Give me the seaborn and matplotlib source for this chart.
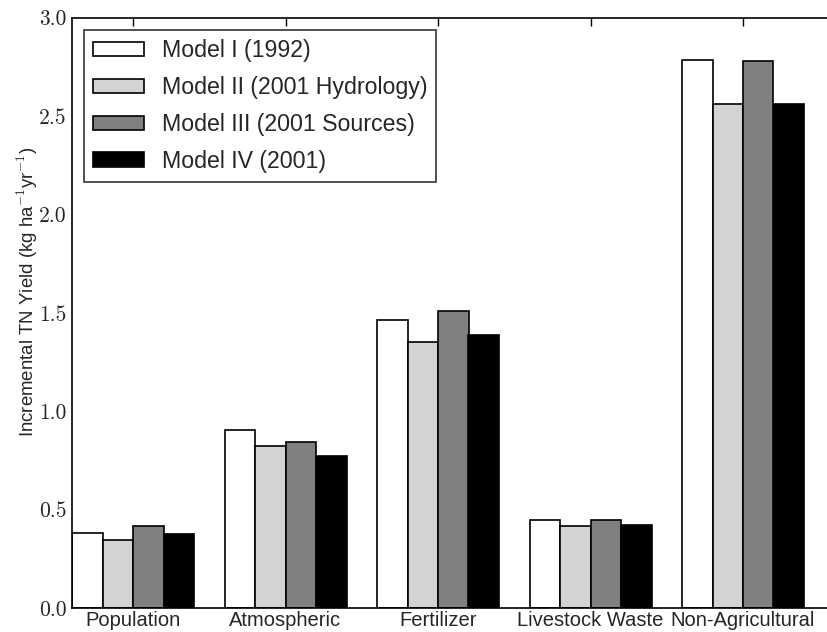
import matplotlib
matplotlib.use("Agg")
import matplotlib.pyplot as plt
import seaborn as sns
import pandas as pd

categories = ["Population", "Atmospheric", "Fertilizer", "Livestock Waste", "Non-Agricultural"]
models = ["Model I (1992)", "Model II (2001 Hydrology)", "Model III (2001 Sources)", "Model IV (2001)"]
model1 = [0.383, 0.903, 1.463, 0.446, 2.784]
model2 = [0.344, 0.822, 1.351, 0.415, 2.561]
model3 = [0.417, 0.844, 1.507, 0.449, 2.781]
model4 = [0.378, 0.771, 1.388, 0.422, 2.560]
colors = ["#ffffff", "#d3d3d3", "#808080", "#000000"]
yticks = [0.0, 0.5, 1.0, 1.5, 2.0, 2.5, 3.0]

rows = []
for m, vals in zip(models, [model1, model2, model3, model4]):
    for c, v in zip(categories, vals):
        rows.append({"cat": c, "model": m, "val": v})
df = pd.DataFrame(rows)

sns.set_style("white")
plt.rcParams["font.family"] = ["Liberation Sans", "DejaVu Sans"]
plt.rcParams["mathtext.fontset"] = "cm"

fig = plt.figure(figsize=(8.27, 6.32), dpi=100)
axw = 760
ax = fig.add_axes([72/827, 1-608/632, axw/827, (608-17.5)/632])

sns.barplot(data=df, x="cat", y="val", hue="model", order=categories, hue_order=models,
            palette=colors, saturation=1, edgecolor="black", linewidth=1.2, ax=ax,
            errorbar=None, width=0.8)

ax.set_xlim(-0.4, -0.4 + axw/152.5)
ax.set_ylim(0, 3.0)
ax.set_yticks(yticks)
ax.set_yticklabels([f"{t:.1f}" for t in yticks], fontfamily="cmr10", fontsize=15.5)
ax.set_xticks(range(len(categories)))
ax.set_xticklabels(categories, fontsize=14.5)
ax.set_xlabel("")
ax.set_ylabel(r"Incremental TN Yield (kg ha$^{-1}$yr$^{-1}$)", fontsize=13.4)
ax.yaxis.set_label_coords(-0.042, 0.535)
ax.tick_params(direction="in", top=True, right=False, length=6, width=1, color="black", pad=4)
ax.tick_params(axis="x", pad=2)
for s in ax.spines.values():
    s.set_visible(True)
    s.set_color("black")
    s.set_linewidth(1.2)

leg = ax.legend(loc="upper left", bbox_to_anchor=(12/axw, 1 - 12.5/590), borderaxespad=0,
                fontsize=16.7, frameon=True, fancybox=False, handlelength=2.2, handleheight=0.6,
                handletextpad=0.75, labelspacing=0.6, borderpad=0.4)
leg.get_frame().set_edgecolor("black")
leg.get_frame().set_linewidth(1.2)

fig.savefig("out.png", dpi=100)
